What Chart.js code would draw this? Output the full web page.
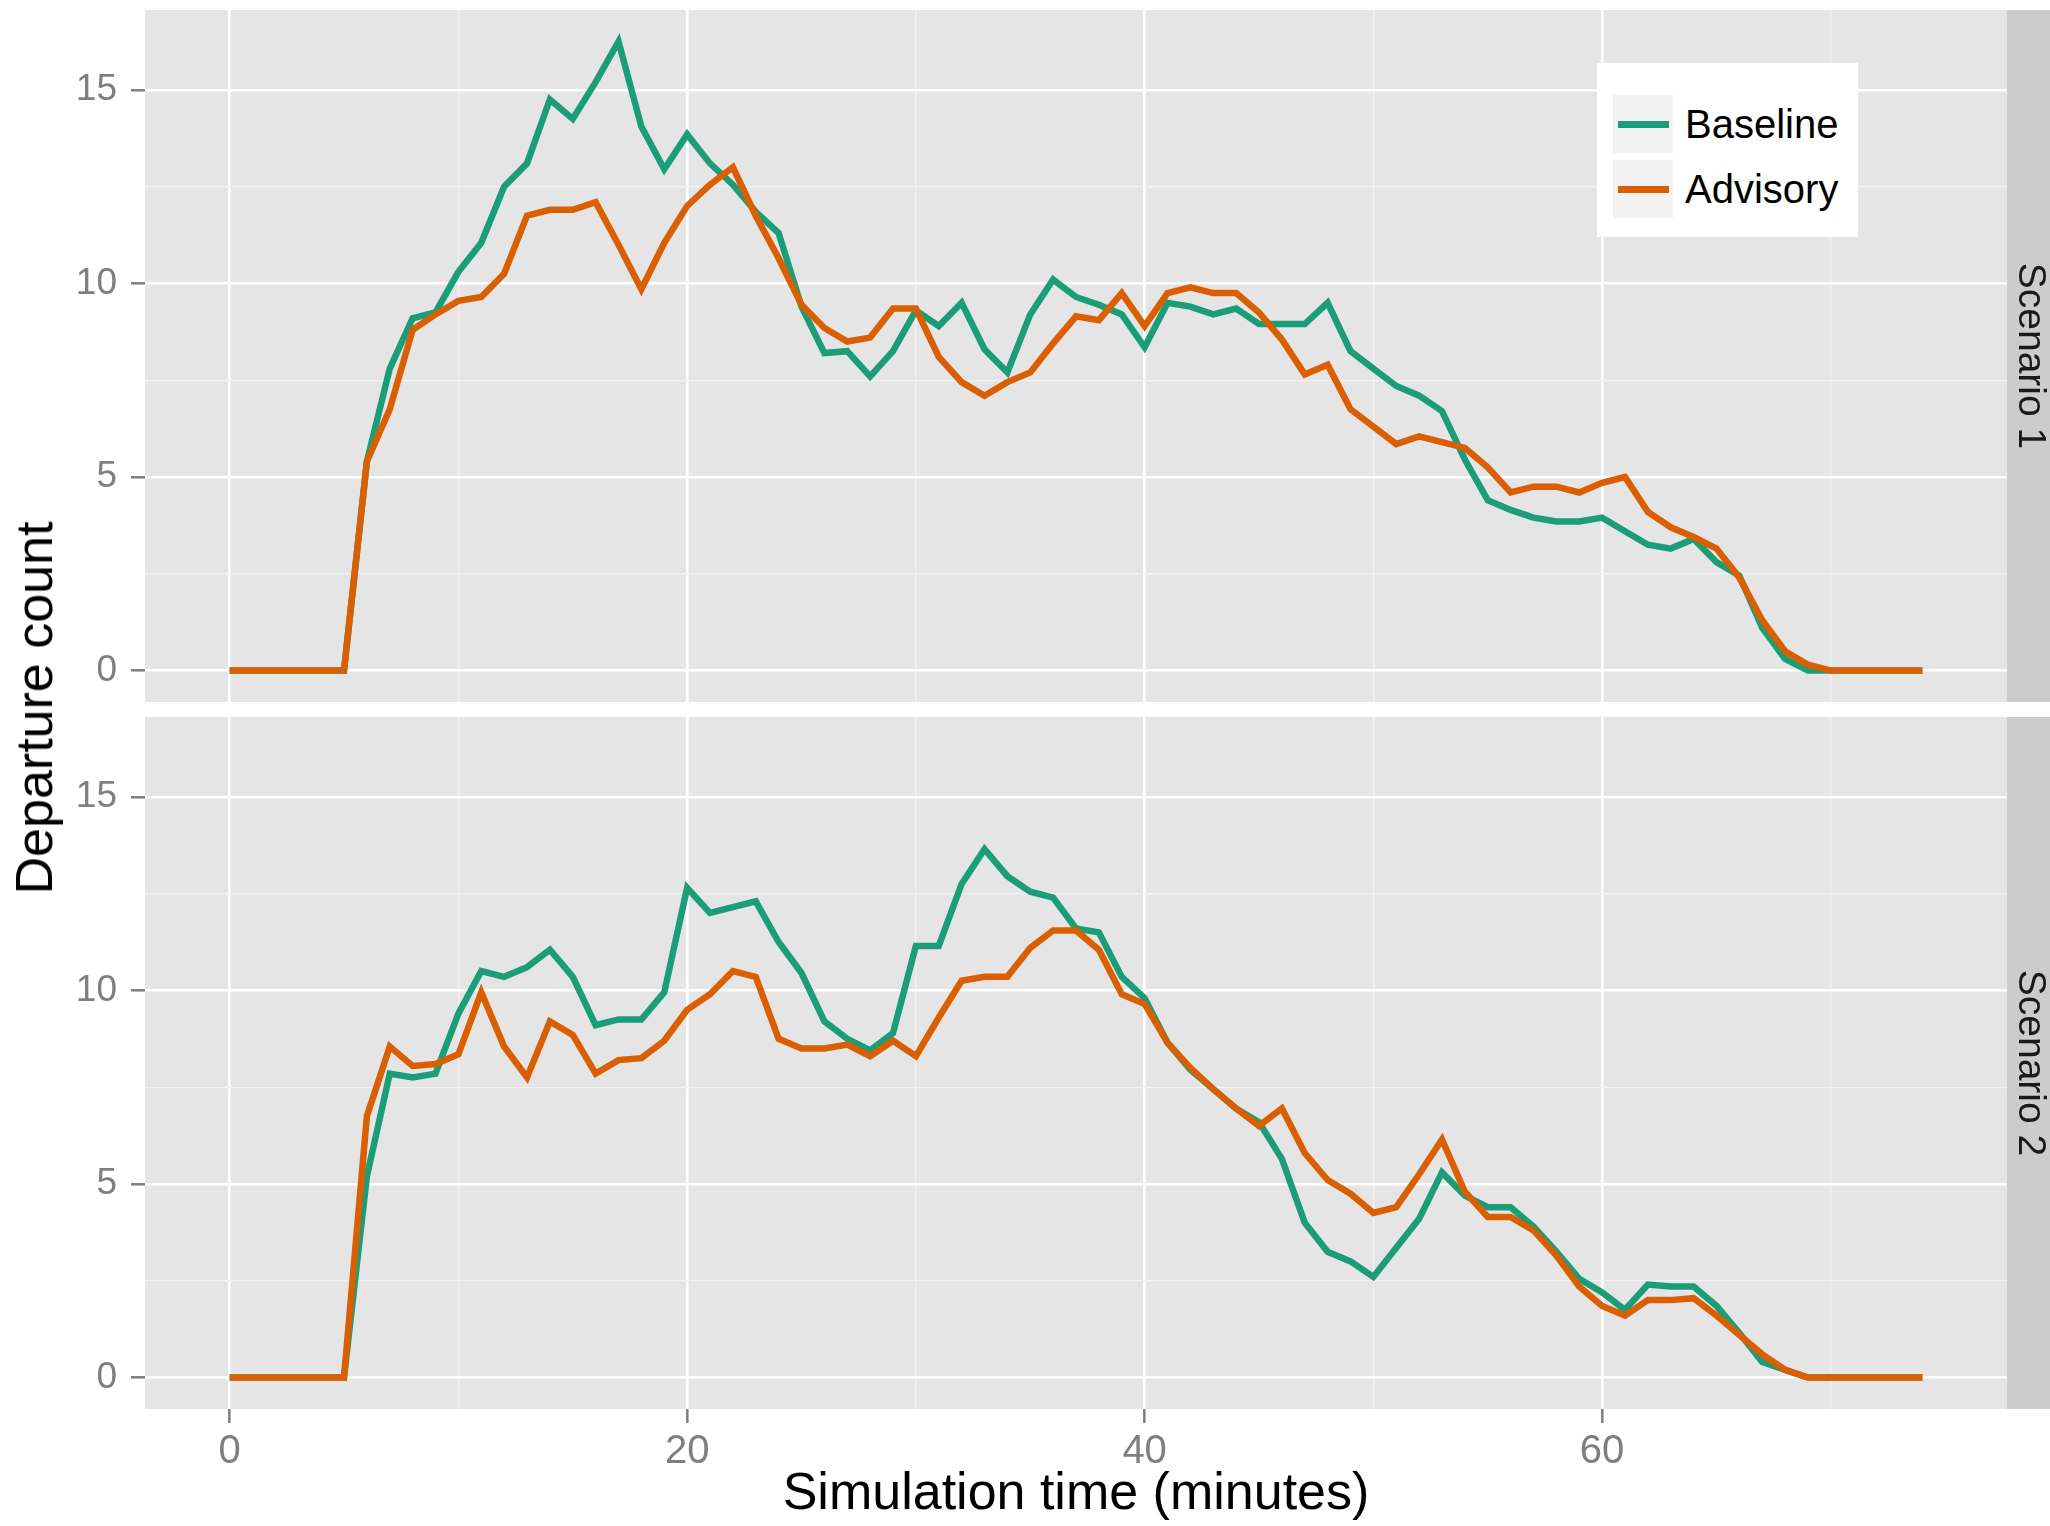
<!DOCTYPE html>
<html>
<head>
<meta charset="utf-8">
<title>Departure count</title>
<script src="https://cdn.jsdelivr.net/npm/chart.js@4.4.1/dist/chart.umd.min.js"></script>
<style>
  body { margin: 0; background: #fff; font-family: "Liberation Sans", Arial, sans-serif; }
  #wrap { position: relative; width: 2050px; height: 1526px; overflow: hidden; }
  #top, #bottom { position: absolute; left: 0; }
  #top { top: 0; }
  #bottom { top: 709px; }
  #ytitle {
    position: absolute; left: 34px; top: 708px;
    transform: translate(-50%, -50%) rotate(-90deg);
    font-size: 52px; line-height: 1; white-space: nowrap; color: #000;
  }
  #legend { position: absolute; left: 1597px; top: 63px; width: 261px; height: 174px; background: #fff; }
  .key { position: absolute; left: 16px; width: 60px; height: 58px; background: #f2f2f2; }
  .key span { position: absolute; left: 5px; right: 4px; top: 50%; height: 7px; margin-top: -3.5px; }
  .lab { position: absolute; left: 88px; font-size: 40px; line-height: 58px; color: #000; }
</style>
</head>
<body>
<div id="wrap">
  <canvas id="top" width="2050" height="709"></canvas>
  <canvas id="bottom" width="2050" height="817"></canvas>
  <div id="ytitle">Departure count</div>
  <div id="legend"></div>
</div>
<script>
// minutes of simulated time, one value per minute
const minutes = [0, 1, 2, 3, 4, 5, 6, 7, 8, 9, 10, 11, 12, 13, 14, 15, 16, 17, 18, 19,
  20, 21, 22, 23, 24, 25, 26, 27, 28, 29, 30, 31, 32, 33, 34, 35, 36, 37, 38, 39,
  40, 41, 42, 43, 44, 45, 46, 47, 48, 49, 50, 51, 52, 53, 54, 55, 56, 57, 58, 59,
  60, 61, 62, 63, 64, 65, 66, 67, 68, 69, 70, 71, 72, 73, 74];

const s1Baseline = [0, 0, 0, 0, 0, 0, 5.4, 7.8, 9.1, 9.25, 10.3, 11.05, 12.5, 13.1, 14.75, 14.25, 15.2, 16.25, 14.05, 12.95,
  13.85, 13.1, 12.55, 11.85, 11.3, 9.4, 8.2, 8.25, 7.6, 8.25, 9.3, 8.9, 9.5, 8.3, 7.7, 9.2, 10.1, 9.65, 9.45, 9.2,
  8.35, 9.5, 9.4, 9.2, 9.35, 8.95, 8.95, 8.95, 9.5, 8.25, 7.8, 7.35, 7.1, 6.7, 5.45, 4.4, 4.15, 3.95, 3.85, 3.85,
  3.95, 3.6, 3.25, 3.15, 3.4, 2.8, 2.45, 1.1, 0.3, 0, 0, 0, 0, 0, 0];
const s1Advisory = [0, 0, 0, 0, 0, 0, 5.4, 6.75, 8.8, 9.2, 9.55, 9.65, 10.25, 11.75, 11.9, 11.9, 12.1, 11.0, 9.85, 11.05,
  12.0, 12.55, 13.0, 11.75, 10.65, 9.45, 8.85, 8.5, 8.6, 9.35, 9.35, 8.1, 7.45, 7.1, 7.45, 7.7, 8.45, 9.15, 9.05, 9.75,
  8.9, 9.75, 9.9, 9.75, 9.75, 9.25, 8.55, 7.65, 7.9, 6.75, 6.3, 5.85, 6.05, 5.9, 5.75, 5.25, 4.6, 4.75, 4.75, 4.6,
  4.85, 5.0, 4.1, 3.7, 3.45, 3.15, 2.4, 1.3, 0.5, 0.15, 0, 0, 0, 0, 0];
const s2Baseline = [0, 0, 0, 0, 0, 0, 5.2, 7.85, 7.75, 7.85, 9.4, 10.5, 10.35, 10.6, 11.05, 10.35, 9.1, 9.25, 9.25, 9.95,
  12.65, 12.0, 12.15, 12.3, 11.25, 10.45, 9.2, 8.75, 8.45, 8.9, 11.15, 11.15, 12.75, 13.65, 12.95, 12.55, 12.4, 11.6, 11.5, 10.35,
  9.8, 8.65, 7.95, 7.45, 6.95, 6.6, 5.65, 4.0, 3.25, 3.0, 2.6, 3.35, 4.1, 5.3, 4.7, 4.4, 4.4, 3.9, 3.25, 2.55,
  2.2, 1.75, 2.4, 2.35, 2.35, 1.85, 1.15, 0.4, 0.2, 0, 0, 0, 0, 0, 0];
const s2Advisory = [0, 0, 0, 0, 0, 0, 6.75, 8.55, 8.05, 8.1, 8.35, 9.95, 8.55, 7.75, 9.2, 8.85, 7.85, 8.2, 8.25, 8.7,
  9.5, 9.9, 10.5, 10.35, 8.75, 8.5, 8.5, 8.6, 8.3, 8.7, 8.3, 9.3, 10.25, 10.35, 10.35, 11.1, 11.55, 11.55, 11.05, 9.9,
  9.65, 8.65, 8.0, 7.45, 6.95, 6.5, 6.95, 5.8, 5.1, 4.75, 4.25, 4.4, 5.25, 6.15, 4.8, 4.15, 4.15, 3.8, 3.15, 2.35,
  1.85, 1.6, 2.0, 2.0, 2.05, 1.6, 1.1, 0.6, 0.2, 0, 0, 0, 0, 0, 0];

const seriesNames = ["Baseline", "Advisory"];
const seriesColors = ["#1b9e77", "#d95f02"];
const panelNames = ["Scenario 1", "Scenario 2"];

const yTickLabels = [0, 5, 10, 15];
const yGridLines = [0, 2.5, 5, 7.5, 10, 12.5, 15];
const xTickLabels = [0, 20, 40, 60];
const xGridLines = [0, 10, 20, 30, 40, 50, 60, 70];

const FONT = '"Liberation Sans", Arial, sans-serif';
Chart.defaults.font.family = FONT;

// shared y range for both facets, 5% padding like ggplot
const allValues = s1Baseline.concat(s1Advisory, s2Baseline, s2Advisory);
const yHigh = Math.max(...allValues);
const yPad = yHigh * 0.05;
const xLow = minutes[0];
const xHigh = minutes[minutes.length - 1];
const xPad = (xHigh - xLow) * 0.05;

// grey panel background
const panelBg = {
  id: "panelBg",
  beforeDraw(chart) {
    const { ctx, chartArea: a } = chart;
    ctx.save();
    ctx.fillStyle = "#e5e5e5";
    ctx.fillRect(a.left, a.top, a.right - a.left, a.bottom - a.top);
    ctx.restore();
  }
};

// facet label strip on the right side
const facetStrip = {
  id: "facetStrip",
  afterDraw(chart, args, opts) {
    const { ctx, chartArea: a, width } = chart;
    ctx.save();
    ctx.fillStyle = "#cccccc";
    ctx.fillRect(a.right, a.top, width - a.right, a.bottom - a.top);
    ctx.translate((a.right + width) / 2 + 1, (a.top + a.bottom) / 2);
    ctx.rotate(Math.PI / 2);
    ctx.fillStyle = "#1a1a1a";
    ctx.font = "39px " + FONT;
    ctx.textAlign = "center";
    ctx.textBaseline = "middle";
    ctx.fillText(opts.text, 0, 0);
    ctx.restore();
  }
};

function gridStyle(majors, showTicks) {
  const isMajor = c => c.tick && majors.includes(c.tick.value);
  return {
    color: c => (isMajor(c) ? "#ffffff" : "#f2f2f2"),
    lineWidth: c => (isMajor(c) ? 2.6 : 1.3),
    drawTicks: showTicks,
    tickLength: 14,
    tickWidth: 2.5,
    tickColor: c => (isMajor(c) ? "#7f7f7f" : "rgba(0,0,0,0)")
  };
}

function drawPanel(id, baseline, advisory, panelName, isBottom) {
  return new Chart(id, {
    type: "line",
    data: {
      labels: minutes,
      datasets: [
        { label: seriesNames[0], data: baseline, borderColor: seriesColors[0], order: 2 },
        { label: seriesNames[1], data: advisory, borderColor: seriesColors[1], order: 1 }
      ]
    },
    options: {
      responsive: false,
      animation: false,
      devicePixelRatio: 1,
      elements: {
        line: { borderWidth: 6.5, tension: 0, fill: false },
        point: { radius: 0, hoverRadius: 0 }
      },
      layout: {
        padding: isBottom
          ? { top: 8, right: 43, bottom: 0, left: 0 }
          : { top: 10, right: 43, bottom: 7, left: 0 }
      },
      plugins: {
        legend: { display: false },
        tooltip: { enabled: false },
        facetStrip: { text: panelName }
      },
      scales: {
        x: {
          type: "linear",
          min: xLow - xPad,
          max: xHigh + xPad,
          afterBuildTicks: axis => { axis.ticks = xGridLines.map(v => ({ value: v })); },
          afterFit: axis => {
            axis.height = isBottom ? 117 : 0;
            axis.paddingLeft = 0;
            axis.paddingRight = 0;
          },
          border: { display: false },
          grid: gridStyle(xTickLabels, isBottom),
          ticks: {
            display: isBottom,
            autoSkip: false,
            maxRotation: 0,
            padding: 5,
            color: "#7f7f7f",
            font: { size: 40 },
            callback: v => (xTickLabels.includes(v) ? String(v) : "")
          },
          title: {
            display: isBottom,
            text: "Simulation time (minutes)",
            color: "#000",
            font: { size: 52 },
            padding: { top: 0, bottom: 0 }
          }
        },
        y: {
          min: -yPad,
          max: yHigh + yPad,
          afterBuildTicks: axis => { axis.ticks = yGridLines.map(v => ({ value: v })); },
          afterFit: axis => {
            axis.width = 145;
            axis.paddingTop = 0;
            axis.paddingBottom = 0;
          },
          border: { display: false },
          grid: gridStyle(yTickLabels, true),
          ticks: {
            autoSkip: false,
            padding: 14,
            color: "#7f7f7f",
            font: { size: 37 },
            callback: v => (yTickLabels.includes(v) ? String(v) : "")
          }
        }
      }
    },
    plugins: [panelBg, facetStrip]
  });
}

drawPanel("top", s1Baseline, s1Advisory, panelNames[0], false);
drawPanel("bottom", s2Baseline, s2Advisory, panelNames[1], true);

// legend box inside the top panel
const legend = document.getElementById("legend");
seriesNames.forEach((name, i) => {
  const key = document.createElement("div");
  key.className = "key";
  key.style.top = (32 + i * 65) + "px";
  const swatch = document.createElement("span");
  swatch.style.background = seriesColors[i];
  key.appendChild(swatch);
  const lab = document.createElement("div");
  lab.className = "lab";
  lab.style.top = (32 + i * 65) + "px";
  lab.textContent = name;
  legend.appendChild(key);
  legend.appendChild(lab);
});
</script>
</body>
</html>
